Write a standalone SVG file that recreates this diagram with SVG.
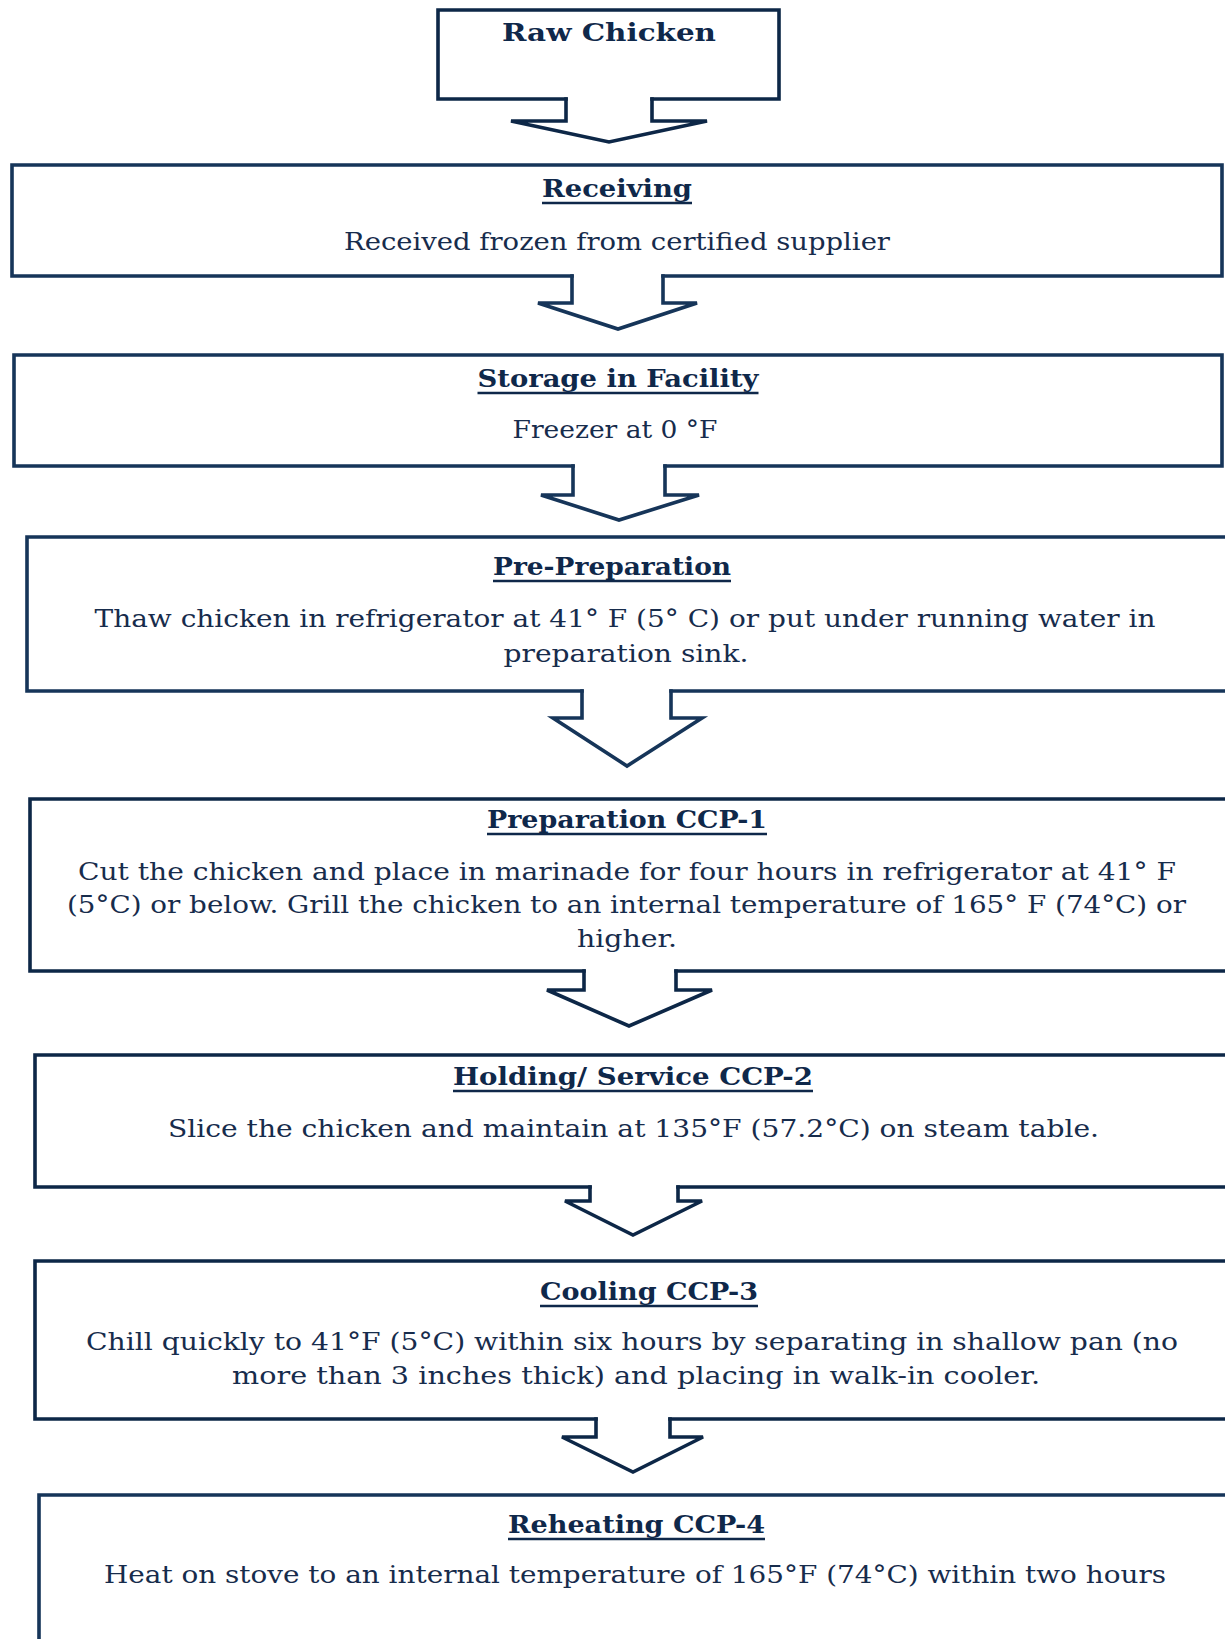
<svg xmlns="http://www.w3.org/2000/svg" width="1225" height="1639" viewBox="0 0 1225 1639">
<style>
.box{fill:none;stroke:#163559;stroke-width:3.6;stroke-linecap:square;stroke-linejoin:miter}
.dk{stroke:#0d2747}
.h{font-family:"DejaVu Serif","Liberation Serif",serif;font-weight:bold;font-size:24px;fill:#0f284a;text-anchor:middle}
.t{font-family:"DejaVu Serif","Liberation Serif",serif;font-size:25px;fill:#172c4c;text-anchor:middle}
.u{stroke:#0f284a;stroke-width:2.4}
</style>
<rect width="1225" height="1639" fill="#ffffff"/>
<g id="raw-chicken">
<path class="box dk" d="M566 99 H438 V10 H779 V99 H652"/>
<text class="h" x="609" y="41" font-size="30" textLength="214" lengthAdjust="spacingAndGlyphs">Raw Chicken</text>
</g>
<g id="receiving">
<path class="box" d="M572 276 H12 V165 H1222 V276 H663"/>
<text class="h" x="617" y="197" textLength="150" lengthAdjust="spacingAndGlyphs">Receiving</text>
<line class="u" x1="542" y1="203" x2="692" y2="203"/>
<text class="t" x="617" y="250" textLength="546" lengthAdjust="spacingAndGlyphs">Received frozen from certified supplier</text>
</g>
<g id="storage">
<path class="box" d="M573 466 H14 V355 H1222 V466 H665"/>
<text class="h" x="618" y="387" textLength="281" lengthAdjust="spacingAndGlyphs">Storage in Facility</text>
<line class="u" x1="477.5" y1="393" x2="758.5" y2="393"/>
<text class="t" x="615" y="438" textLength="205" lengthAdjust="spacingAndGlyphs">Freezer at 0 °F</text>
</g>
<g id="pre-preparation">
<path class="box" d="M582 691 H27 V537 H1240 V691 H671"/>
<text class="h" x="612" y="575" textLength="238" lengthAdjust="spacingAndGlyphs">Pre-Preparation</text>
<line class="u" x1="493" y1="581" x2="731" y2="581"/>
<text class="t" x="625" y="627" textLength="1061" lengthAdjust="spacingAndGlyphs">Thaw chicken in refrigerator at 41° F (5° C) or put under running water in</text>
<text class="t" x="626" y="662" textLength="245" lengthAdjust="spacingAndGlyphs">preparation sink.</text>
</g>
<g id="preparation-ccp1">
<path class="box dk" d="M584 971 H30 V799 H1240 V971 H676"/>
<text class="h" x="627" y="828" textLength="280" lengthAdjust="spacingAndGlyphs">Preparation CCP-1</text>
<line class="u" x1="487" y1="834" x2="767" y2="834"/>
<text class="t" x="627" y="880" textLength="1098" lengthAdjust="spacingAndGlyphs">Cut the chicken and place in marinade for four hours in refrigerator at 41° F</text>
<text class="t" x="626.5" y="913" textLength="1119" lengthAdjust="spacingAndGlyphs">(5°C) or below. Grill the chicken to an internal temperature of 165° F (74°C) or</text>
<text class="t" x="627" y="947" textLength="100" lengthAdjust="spacingAndGlyphs">higher.</text>
</g>
<g id="holding-ccp2">
<path class="box dk" d="M590 1187 H35 V1055 H1240 V1187 H678"/>
<text class="h" x="633" y="1085" textLength="360" lengthAdjust="spacingAndGlyphs">Holding/ Service CCP-2</text>
<line class="u" x1="453" y1="1091" x2="813" y2="1091"/>
<text class="t" x="633.5" y="1137" textLength="931" lengthAdjust="spacingAndGlyphs">Slice the chicken and maintain at 135°F (57.2°C) on steam table.</text>
</g>
<g id="cooling-ccp3">
<path class="box dk" d="M596 1419 H35 V1261 H1240 V1419 H670"/>
<text class="h" x="649" y="1300" textLength="218" lengthAdjust="spacingAndGlyphs">Cooling CCP-3</text>
<line class="u" x1="540" y1="1306" x2="758" y2="1306"/>
<text class="t" x="632" y="1350" textLength="1092" lengthAdjust="spacingAndGlyphs">Chill quickly to 41°F (5°C) within six hours by separating in shallow pan (no</text>
<text class="t" x="636" y="1384" textLength="808" lengthAdjust="spacingAndGlyphs">more than 3 inches thick) and placing in walk-in cooler.</text>
</g>
<g id="reheating-ccp4">
<path class="box" d="M39 1660 V1495 H1240"/>
<text class="h" x="636.5" y="1533" textLength="257" lengthAdjust="spacingAndGlyphs">Reheating CCP-4</text>
<line class="u" x1="508" y1="1539" x2="765" y2="1539"/>
<text class="t" x="635" y="1583" textLength="1062" lengthAdjust="spacingAndGlyphs">Heat on stove to an internal temperature of 165°F (74°C) within two hours</text>
</g>
<g id="connectors">
<path class="box dk" d="M566 99 V121 H511 L609 142 L707 121 H652 V99"/>
<path class="box" d="M572 276 V303 H538 L618 329 L697 303 H663 V276"/>
<path class="box" d="M573 466 V495 H541 L619 520 L699 495 H665 V466"/>
<path class="box" d="M582 691 V718 H553 L627 766 L702 718 H671 V691"/>
<path class="box dk" d="M584 971 V990 H547 L629 1026 L712 990 H676 V971"/>
<path class="box dk" d="M590 1187 V1201 H565 L633 1235 L702 1201 H678 V1187"/>
<path class="box dk" d="M596 1419 V1437 H562 L633 1472 L703 1437 H670 V1419"/>
</g>
</svg>
